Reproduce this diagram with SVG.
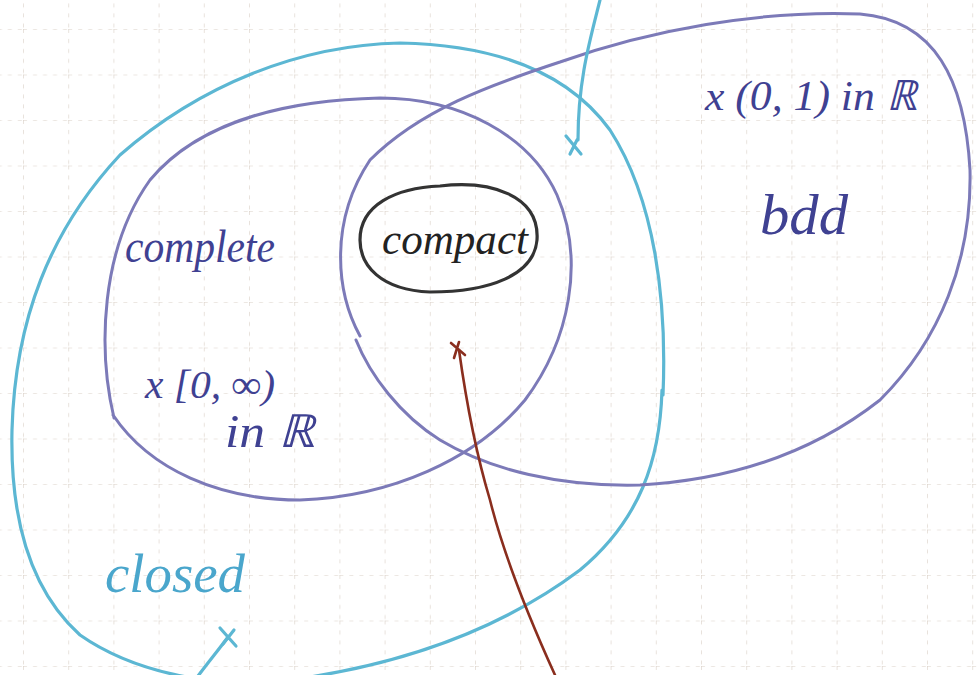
<svg xmlns="http://www.w3.org/2000/svg" width="977" height="675" viewBox="0 0 977 675">
<defs>
<pattern id="grid" x="23" y="29" width="45.2" height="45.5" patternUnits="userSpaceOnUse">
<path d="M0 0H45.2M0 0V45.5" fill="none" stroke="#d9cfc6" stroke-width="1.2" stroke-dasharray="4 6"/>
</pattern>
</defs>
<style>
.c{fill:none;stroke-linecap:round;stroke-linejoin:round}
.cy{stroke:#5cb7d3;stroke-width:3.2}
.pu{stroke:#7c7ab8;stroke-width:3}
.bk{stroke:#333;stroke-width:3.2}
.rd{stroke:#8a2e1e;stroke-width:2.6}
.t{font-family:"Liberation Serif",serif;font-style:italic}
.tp{fill:#3f4192}
</style>
<rect width="977" height="675" fill="#fff"/>
<rect width="977" height="675" fill="url(#grid)"/>
<g id="closed">
<path class="c cy" d="M663 395 C667 300 655 200 610 130 C570 75 500 45 400 43 C300 45 200 85 120 155 C50 230 15 320 12 430 C10 520 30 590 80 635 C130 670 210 690 290 680 C400 665 500 630 580 570 C640 520 660 460 662 390"/>
<text class="t" x="105" y="592" font-size="54" fill="#4aa6cc" textLength="140" lengthAdjust="spacingAndGlyphs">closed</text>
</g>
<g id="complete">
<path class="c pu" d="M114 418 C98 350 100 250 150 180 C200 120 290 100 380 98 C460 98 530 135 557 195 C585 260 570 340 525 400 C475 460 390 497 300 500 C220 500 150 470 113 415"/>
<text class="t tp" x="125" y="262" font-size="46" textLength="150" lengthAdjust="spacingAndGlyphs">complete</text>
</g>
<g id="bdd">
<path class="c pu" d="M360 336 C335 290 330 220 370 160 C420 110 490 85 560 62 C650 30 760 10 860 14 C935 20 965 80 970 170 C972 260 940 340 880 400 C810 455 730 480 640 485 C560 487 490 470 440 440 C400 415 370 375 356 340"/>
<text class="t tp" x="760" y="234" font-size="56" textLength="88" lengthAdjust="spacingAndGlyphs">bdd</text>
<text class="t tp" x="705" y="110" font-size="42" textLength="212" lengthAdjust="spacingAndGlyphs">x (0, 1) in ℝ</text>
</g>
<g id="compact">
<path class="c bk" d="M440 186 C490 180 540 195 537 240 C534 275 490 292 430 292 C380 290 360 265 360 240 C360 205 395 188 440 186 Z"/>
<text class="t" x="382" y="254" font-size="44" fill="#222" textLength="146" lengthAdjust="spacingAndGlyphs">compact</text>
</g>
<g id="labels">
<text class="t tp" x="145" y="398" font-size="40" textLength="130" lengthAdjust="spacingAndGlyphs">x [0, ∞)</text>
<text class="t tp" x="225" y="447" font-size="46" textLength="90" lengthAdjust="spacingAndGlyphs">in ℝ</text>
</g>
<g id="connectors">
<path class="c rd" d="M459 350 C466 400 475 450 490 500 C505 560 530 620 555 675"/>
<path class="c rd" d="M451 343 L465 355 M459 342 L454 358"/>
<path class="c cy" stroke-width="2" d="M600 0 C590 40 578 80 578 140"/>
<path class="c cy" d="M566 136 L581 154 M577 140 L570 154"/>
<path class="c cy" d="M198 676 C210 660 220 648 228 637"/>
<path class="c cy" d="M220 628 L236 646 M234 630 L223 644"/>
</g>
</svg>
